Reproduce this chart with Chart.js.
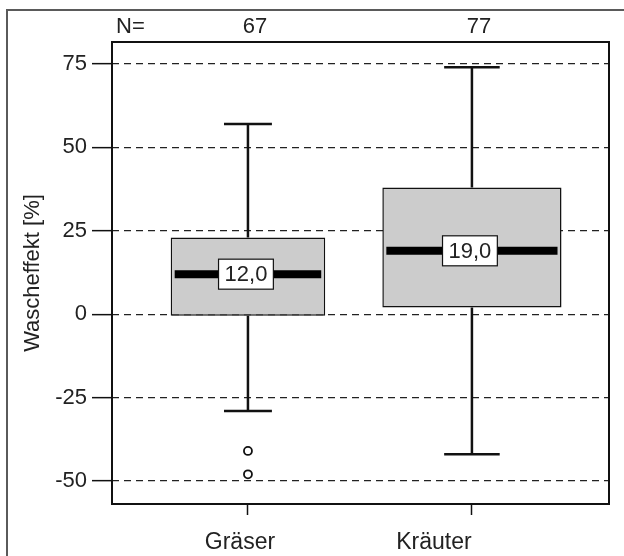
<!DOCTYPE html>
<html>
<head>
<meta charset="utf-8">
<script src="https://cdn.jsdelivr.net/npm/chart.js@4/dist/chart.umd.min.js"></script>
<style>
  body { margin: 0; background: #fff; }
  canvas { display: block; }
</style>
</head>
<body>
<canvas id="myChart" width="624" height="556"></canvas>
<script>
// Boxplot-Daten
const categories = ['Gräser', 'Kräuter'];
const counts = [67, 77];
const whiskerLow = [-29, -42];
const q1 = [-0.5, 2];
const medians = [12.0, 19.0];
const q3 = [23, 38];
const whiskerHigh = [57, 74];
const outliers = [[-41, -48], []];
const yTicks = [-50, -25, 0, 25, 50, 75];

const FONT = '"Liberation Sans", Arial, sans-serif';
const TEXT = '#222';

// Boxen als schwebende Balken, eine Serie je Gruppe (eigene Breite),
// leere Plaetze mit null, damit skipNull die Balken zentriert
const boxWidths = [0.69, 0.80];
const boxDatasets = categories.map((c, i) => ({
    type: 'bar',
    label: c,
    data: categories.map((cc, j) => ({ x: j + 1, y: j === i ? [q1[i], q3[i]] : null })),
    backgroundColor: '#cccccc',
    borderColor: '#111',
    borderWidth: 1.5,
    borderSkipped: false,
    skipNull: true,
    categoryPercentage: 1,
    barPercentage: boxWidths[i],
    order: 2
}));

const outlierPoints = [];
outliers.forEach((list, i) => list.forEach(v => outlierPoints.push({ x: i + 1, y: v })));

const boxplotPlugin = {
    id: 'boxplot',
    beforeDraw(chart) {
        const ctx = chart.ctx;
        ctx.save();
        ctx.strokeStyle = '#5a5a5a';
        ctx.lineWidth = 2;
        ctx.beginPath();
        ctx.moveTo(7, chart.height);
        ctx.lineTo(7, 10);
        ctx.lineTo(chart.width, 10);
        ctx.stroke();
        ctx.restore();
    },
    afterDatasetsDraw(chart) {
        const ctx = chart.ctx;
        const y = chart.scales.y;
        categories.forEach((c, i) => {
            const bar = chart.getDatasetMeta(i).data[i];
            const cx = bar.x;
            const half = bar.width / 2;
            const cap = bar.width * 0.155;
            ctx.save();
            ctx.strokeStyle = '#111';
            ctx.lineWidth = 2.5;
            ctx.beginPath();
            // Whisker oben / unten
            ctx.moveTo(cx, y.getPixelForValue(q3[i]));
            ctx.lineTo(cx, y.getPixelForValue(whiskerHigh[i]));
            ctx.moveTo(cx, y.getPixelForValue(q1[i]));
            ctx.lineTo(cx, y.getPixelForValue(whiskerLow[i]));
            ctx.moveTo(cx - cap, y.getPixelForValue(whiskerHigh[i]));
            ctx.lineTo(cx + cap, y.getPixelForValue(whiskerHigh[i]));
            ctx.moveTo(cx - cap, y.getPixelForValue(whiskerLow[i]));
            ctx.lineTo(cx + cap, y.getPixelForValue(whiskerLow[i]));
            ctx.stroke();

            // Median
            const my = y.getPixelForValue(medians[i]);
            ctx.lineWidth = 8;
            ctx.strokeStyle = '#000';
            ctx.beginPath();
            ctx.moveTo(cx - half + 4, my);
            ctx.lineTo(cx + half - 4, my);
            ctx.stroke();

            // Medianbeschriftung
            const txt = medians[i].toFixed(1).replace('.', ',');
            ctx.font = '22px ' + FONT;
            const w = ctx.measureText(txt).width + 12;
            const h = 30;
            ctx.fillStyle = '#fff';
            ctx.fillRect(cx - 2 - w / 2, my - h / 2, w, h);
            ctx.lineWidth = 1.2;
            ctx.strokeStyle = '#111';
            ctx.strokeRect(cx - 2 - w / 2, my - h / 2, w, h);
            ctx.fillStyle = TEXT;
            ctx.textAlign = 'center';
            ctx.textBaseline = 'middle';
            ctx.fillText(txt, cx - 2, my + 1);
            ctx.restore();
        });
    },
    afterDraw(chart) {
        const ctx = chart.ctx;
        const a = chart.chartArea;
        const x = chart.scales.x;
        ctx.save();
        ctx.strokeStyle = '#111';
        ctx.lineWidth = 2;
        ctx.strokeRect(a.left, a.top, a.right - a.left, a.bottom - a.top);

        ctx.fillStyle = TEXT;
        ctx.font = '22px ' + FONT;
        ctx.textBaseline = 'middle';
        ctx.textAlign = 'left';
        ctx.fillText('N=', 116, 27);
        ctx.textAlign = 'center';
        counts.forEach((n, i) => ctx.fillText(String(n), x.getPixelForValue(i + 1) + 7, 27));

        // Gruppenbeschriftung
        const labelShift = [-8, -38];
        ctx.font = '23px ' + FONT;
        ctx.textBaseline = 'alphabetic';
        categories.forEach((c, i) => ctx.fillText(c, x.getPixelForValue(i + 1) + labelShift[i], 549));

        // Achsentitel
        ctx.font = '22px ' + FONT;
        ctx.translate(33, 273);
        ctx.rotate(-Math.PI / 2);
        ctx.textBaseline = 'middle';
        ctx.fillText('Wascheffekt [%]', 0, 0);
        ctx.restore();
    }
};

Chart.defaults.font.family = FONT;

const ctx = document.getElementById('myChart').getContext('2d');
const myChart = new Chart(ctx, {
    type: 'bar',
    data: {
        datasets: [
            ...boxDatasets,
            {
                type: 'scatter',
                label: 'Ausreißer',
                data: outlierPoints,
                pointStyle: 'circle',
                pointRadius: 4,
                pointBackgroundColor: '#fff',
                pointBorderColor: '#111',
                pointBorderWidth: 1.8,
                order: 1
            }
        ]
    },
    options: {
        responsive: false,
        animation: false,
        layout: { padding: { top: 42, right: 15, left: 7, bottom: 0 } },
        plugins: {
            legend: { display: false },
            tooltip: { enabled: false }
        },
        scales: {
            x: {
                type: 'linear',
                offset: false,
                min: 0.393,
                max: 2.612,
                afterBuildTicks: (s) => { s.ticks = categories.map((c, i) => ({ value: i + 1 })); },
                afterFit: (s) => { s.height = 52; },
                ticks: { display: false },
                grid: {
                    offset: false,
                    drawOnChartArea: false,
                    drawTicks: true,
                    tickLength: 11,
                    tickColor: '#111',
                    tickWidth: 1.5
                },
                border: { display: false }
            },
            y: {
                min: -56.9,
                max: 81.6,
                afterBuildTicks: (s) => { s.ticks = yTicks.map(v => ({ value: v })); },
                afterFit: (s) => { s.width = 105; },
                ticks: {
                    padding: 5,
                    color: TEXT,
                    font: { size: 22 }
                },
                grid: {
                    color: '#222',
                    lineWidth: 1.3,
                    tickLength: 20,
                    tickColor: '#111',
                    tickWidth: 1.5,
                    tickBorderDash: []
                },
                border: { display: false, dash: [7, 5] }
            }
        }
    },
    plugins: [boxplotPlugin]
});
</script>
</body>
</html>
